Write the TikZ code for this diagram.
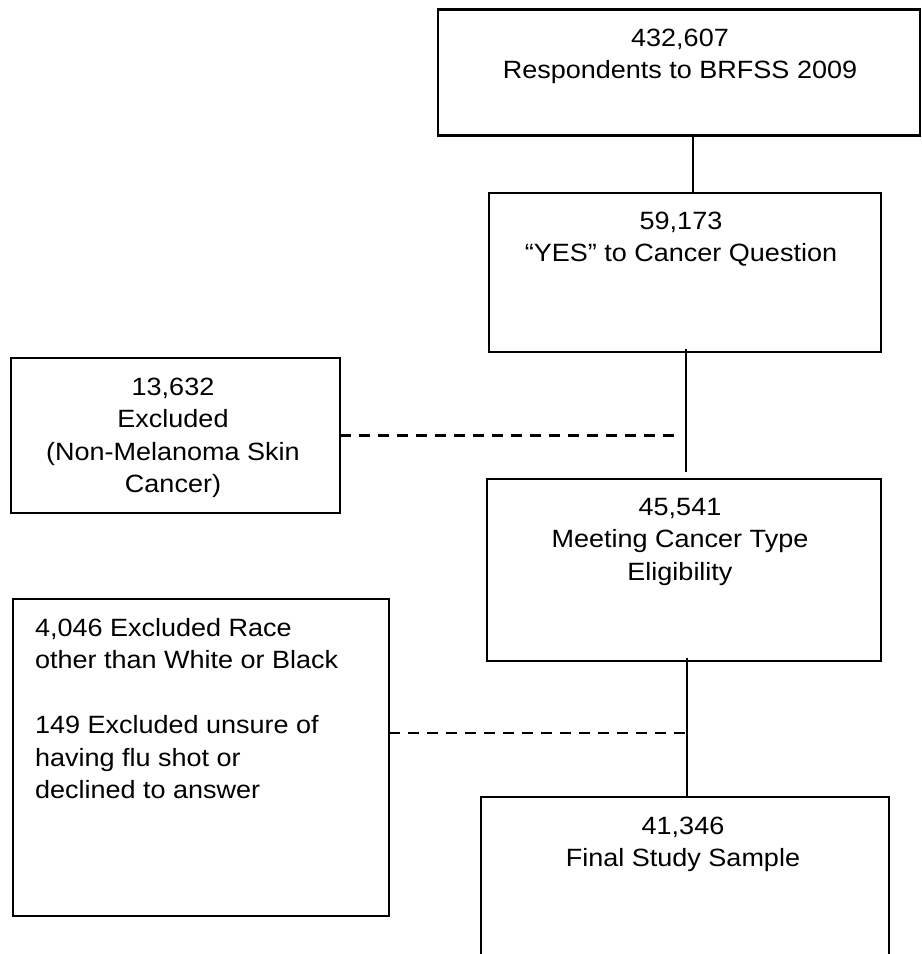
\documentclass[tikz,border=0pt]{standalone}
\usepackage{fontspec}
\setmainfont{Liberation Sans}[FakeStretch=1.08]
\begin{document}
\begin{tikzpicture}[x=1bp,y=-1bp,
  box/.style={draw=black, line width=2.6bp, inner sep=0pt, outer sep=0pt, rectangle},
  txt/.style={inner sep=0pt, outer sep=0pt, align=center, font=\fontsize{25bp}{32.5bp}\selectfont},
  txtl/.style={txt, align=left},
  conn/.style={line width=2.6bp, black},
  dashconn/.style={line width=2.6bp, black, dash pattern=on 11bp off 8bp}]
\clip (0,0) rectangle (922,954);
\fill[white] (0,0) rectangle (922,954);

% boxes
\node[box, minimum width=482bp, minimum height=126bp] (n1) at (679,72.5) {};
\node[box, minimum width=392bp, minimum height=159bp] (n2) at (685,272.5) {};
\node[box, minimum width=329bp, minimum height=155bp] (l1) at (175.5,435.5) {};
\node[box, minimum width=394bp, minimum height=182bp] (n4) at (684,570) {};
\node[box, minimum width=376bp, minimum height=317bp] (l2) at (201,757.5) {};
\node[box, minimum width=408bp, minimum height=183bp] (n6) at (685,888.5) {};

% texts
\node[txt, anchor=north] (t1) at (680,29) {432,607\\Respondents to BRFSS 2009};
\node[txt, anchor=north] (t2) at (681,212) {59,173\\“YES” to Cancer Question};
\node[txt, anchor=north] (t3) at (173,378) {13,632\\Excluded\\(Non-Melanoma Skin\\Cancer)};
\node[txt, anchor=north] (t4) at (680,498) {45,541\\Meeting Cancer Type\\Eligibility};
\node[txtl, anchor=north west] (t5) at (35,618) {4,046 Excluded Race\\other than White or Black\\[32.5bp]149 Excluded unsure of\\having flu shot or\\declined to answer};
\node[txt, anchor=north] (t6) at (683,817) {41,346\\Final Study Sample};

% connectors
\coordinate (x1) at (693,0);
\coordinate (x2) at (686,0);
\coordinate (x3) at (687,0);
\draw[conn] (n1.south -| x1) -- (n2.north -| x1);
\coordinate (a3) at (686,472);
\draw[conn] (n2.south -| x2) ++(0,-3) -- (a3);
\draw[conn] (n4.south -| x3) ++(0,-3) -- (n6.north -| x3);
\coordinate (d1) at (679,435.5);
\draw[dashconn] (l1.east) -- (d1);
\coordinate (d2) at (688,733);
\draw[dashconn] (l2.east |- d2) -- (d2);
\end{tikzpicture}
\end{document}
